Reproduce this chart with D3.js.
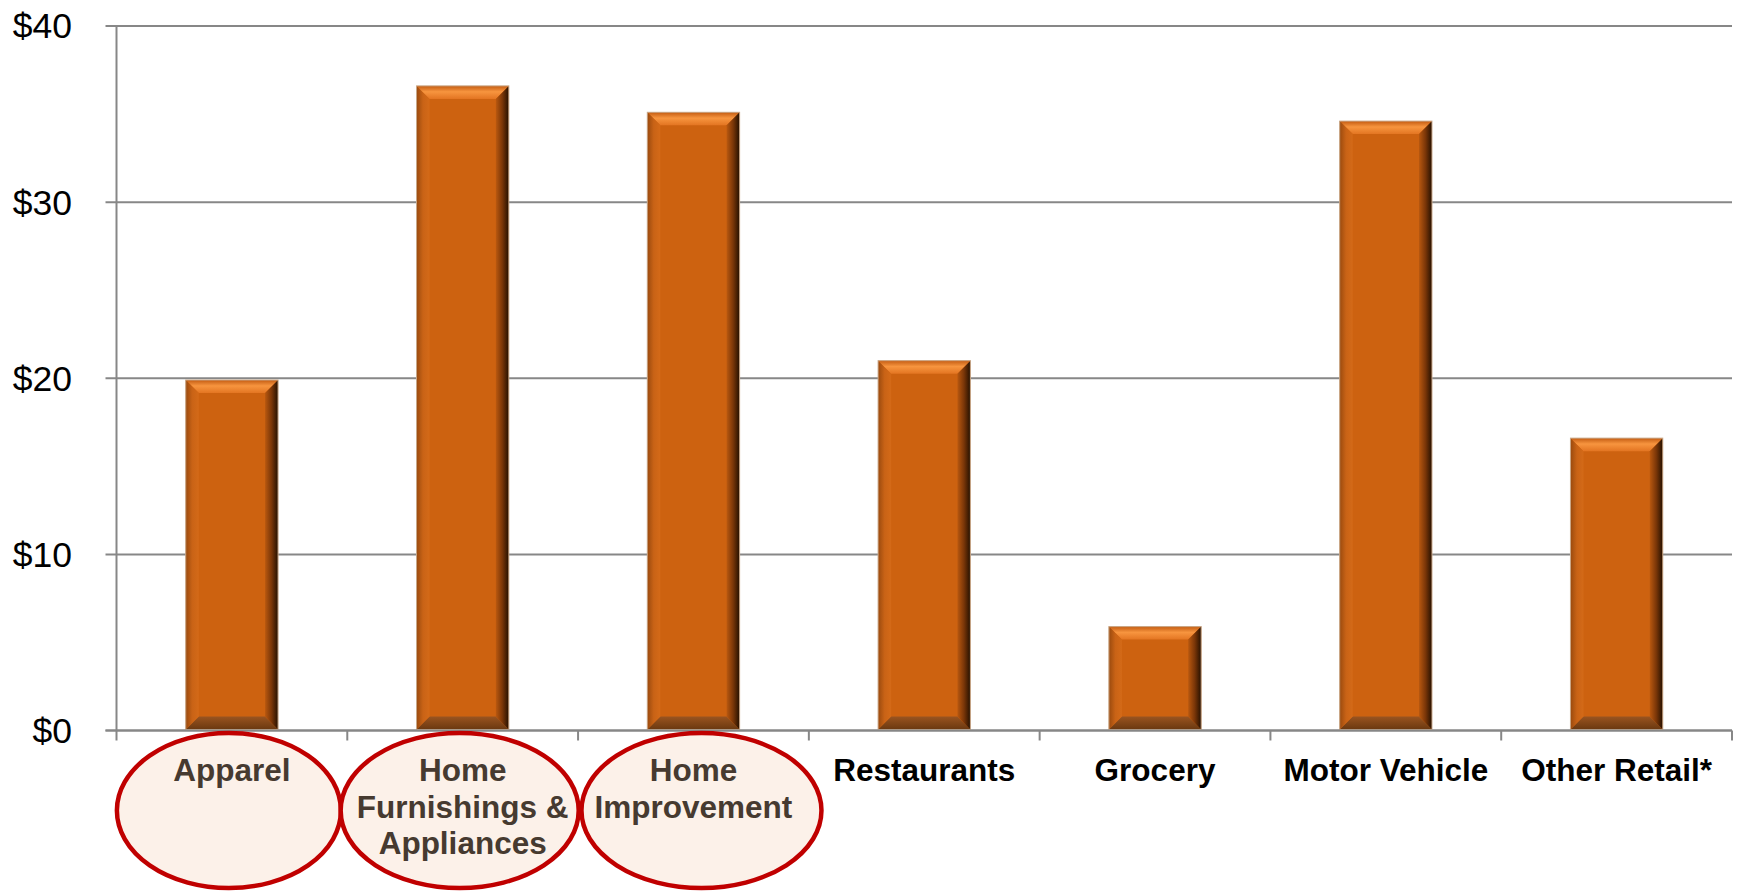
<!DOCTYPE html>
<html>
<head>
<meta charset="utf-8">
<script src="https://cdn.jsdelivr.net/npm/d3@7"></script>
<style>
  body { margin: 0; background: #fff; }
  svg { display: block; font-family: "Liberation Sans", Arial, sans-serif; }
</style>
</head>
<body>
<svg id="chart"></svg>
<script>
// data
const categories = ["Apparel", "Home Furnishings & Appliances", "Home Improvement",
  "Restaurants", "Grocery", "Motor Vehicle", "Other Retail*"];
const labelLines = [["Apparel"], ["Home", "Furnishings &", "Appliances"], ["Home", "Improvement"],
  ["Restaurants"], ["Grocery"], ["Motor Vehicle"], ["Other Retail*"]];
const values = [19.9, 36.6, 35.1, 21.0, 5.9, 34.6, 16.6];
const highlighted = ["Apparel", "Home Furnishings & Appliances", "Home Improvement"];
const yTicks = [0, 10, 20, 30, 40];

const width = 1737, height = 891;
const plot = { left: 116.5, right: 1732, top: 26, bottom: 730.5 };
// hand-drawn ovals are not quite centred on their bands
const ovalShape = [{ dx: -3, rx: 112 }, { dx: -3, rx: 119 }, { dx: 8, rx: 120 }];

const svg = d3.select("#chart")
  .attr("width", width)
  .attr("height", height);

const x = d3.scaleBand()
  .domain(categories)
  .range([plot.left, plot.right])
  .paddingInner(0.6)
  .paddingOuter(0.3);

const y = d3.scaleLinear()
  .domain([0, 40])
  .range([plot.bottom, plot.top]);

// gradients for the bevel look
const defs = svg.append("defs");
function grad(id, x2, y2, stops) {
  const g = defs.append("linearGradient").attr("id", id)
    .attr("x1", 0).attr("y1", 0).attr("x2", x2).attr("y2", y2);
  stops.forEach(s => g.append("stop").attr("offset", s[0]).attr("stop-color", s[1]));
}
grad("bTop", 0, 1, [[0, "#c45c12"], [0.45, "#f7953f"], [1, "#e37522"]]);
grad("bRight", 1, 0, [[0, "#b9580f"], [0.5, "#7a3608"], [1, "#241000"]]);
grad("bLeft", 1, 0, [[0, "#9a4a0e"], [0.5, "#c96316"], [1, "#d46a18"]]);
grad("bBottom", 0, 1, [[0, "#9a5420"], [1, "#6a3810"]]);

// y grid + labels
svg.append("g")
  .selectAll("line")
  .data(yTicks)
  .join("line")
  .attr("x1", plot.left - 11)
  .attr("x2", plot.right)
  .attr("y1", d => y(d))
  .attr("y2", d => y(d))
  .attr("stroke", "#878787")
  .attr("stroke-width", 2);

svg.append("g")
  .selectAll("text")
  .data(yTicks)
  .join("text")
  .attr("x", 72)
  .attr("y", d => y(d))
  .attr("dy", "0.35em")
  .attr("text-anchor", "end")
  .attr("font-size", 35.5)
  .attr("fill", "#000")
  .text(d => "$" + d);

// y axis line
svg.append("line")
  .attr("x1", plot.left).attr("x2", plot.left)
  .attr("y1", plot.top).attr("y2", plot.bottom)
  .attr("stroke", "#878787").attr("stroke-width", 2);

// x ticks at band boundaries
svg.append("g")
  .selectAll("line")
  .data(d3.range(categories.length + 1))
  .join("line")
  .attr("x1", i => plot.left + i * x.step())
  .attr("x2", i => plot.left + i * x.step())
  .attr("y1", plot.bottom)
  .attr("y2", plot.bottom + 10)
  .attr("stroke", "#878787")
  .attr("stroke-width", 2);

// bars
const bev = 13;
const bars = svg.append("g")
  .selectAll("g")
  .data(categories.map((c, i) => ({ c, v: values[i] })))
  .join("g");

bars.each(function(d) {
  const g = d3.select(this);
  const x0 = x(d.c), x1 = x0 + x.bandwidth();
  const y0 = y(d.v), y1 = y(0) - 1;
  const b = Math.min(bev, (y1 - y0) / 2);
  g.append("rect")
    .attr("x", x0).attr("y", y0)
    .attr("width", x1 - x0).attr("height", y1 - y0)
    .attr("fill", "#cd6210");
  g.append("polygon")
    .attr("points", [[x0, y0], [x1, y0], [x1 - b, y0 + b], [x0 + b, y0 + b]].join(" "))
    .attr("fill", "url(#bTop)");
  g.append("polygon")
    .attr("points", [[x0, y1], [x1, y1], [x1 - b, y1 - b], [x0 + b, y1 - b]].join(" "))
    .attr("fill", "url(#bBottom)");
  g.append("polygon")
    .attr("points", [[x0, y0], [x0 + b, y0 + b], [x0 + b, y1 - b], [x0, y1]].join(" "))
    .attr("fill", "url(#bLeft)");
  g.append("polygon")
    .attr("points", [[x1, y0], [x1 - b, y0 + b], [x1 - b, y1 - b], [x1, y1]].join(" "))
    .attr("fill", "url(#bRight)");
  g.append("rect")
    .attr("x", x0).attr("y", y0)
    .attr("width", x1 - x0).attr("height", y1 - y0)
    .attr("fill", "none")
    .attr("stroke", "#c9a88a")
    .attr("stroke-width", 1);
});

// x axis line
svg.append("line")
  .attr("x1", plot.left - 11).attr("x2", plot.right)
  .attr("y1", plot.bottom).attr("y2", plot.bottom)
  .attr("stroke", "#878787").attr("stroke-width", 2);

// highlight ovals
svg.append("g")
  .selectAll("ellipse")
  .data(highlighted)
  .join("ellipse")
  .attr("cx", (d, i) => x(d) + x.bandwidth() / 2 + ovalShape[i].dx)
  .attr("cy", 810.5)
  .attr("rx", (d, i) => ovalShape[i].rx)
  .attr("ry", 77.5)
  .attr("fill", "#fcf1e9")
  .attr("stroke", "#c00000")
  .attr("stroke-width", 4.5);

// category labels
const lab = svg.append("g")
  .selectAll("text")
  .data(categories.map((c, i) => ({ c, lines: labelLines[i] })))
  .join("text")
  .attr("x", d => x(d.c) + x.bandwidth() / 2)
  .attr("y", 781)
  .attr("text-anchor", "middle")
  .attr("font-size", 31.5)
  .attr("font-weight", "bold")
  .attr("fill", d => highlighted.includes(d.c) ? "#463a30" : "#000");

lab.selectAll("tspan")
  .data(d => d.lines)
  .join("tspan")
  .attr("x", function() { return d3.select(this.parentNode).attr("x"); })
  .attr("dy", (d, i) => i === 0 ? 0 : 36.5)
  .text(d => d);
</script>
</body>
</html>
